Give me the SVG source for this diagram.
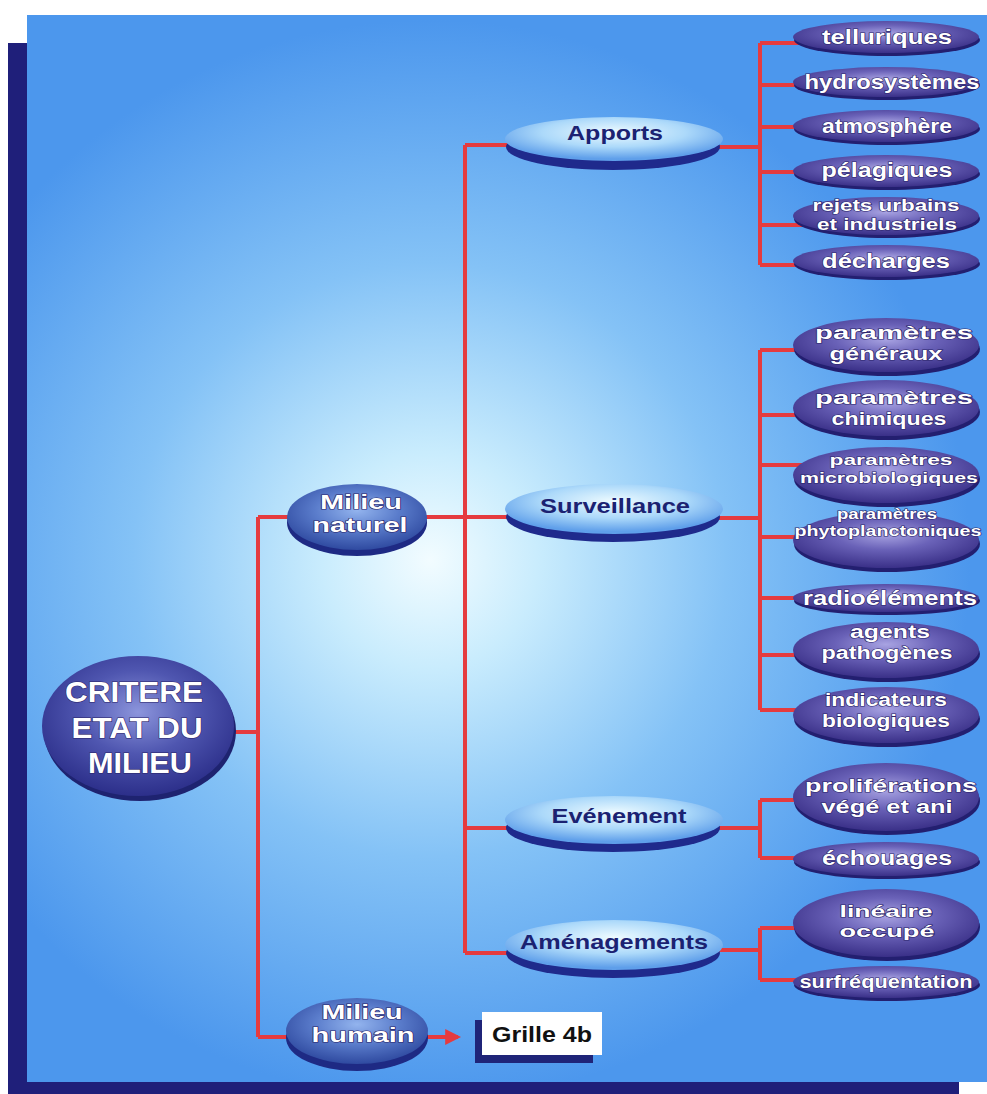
<svg xmlns="http://www.w3.org/2000/svg" width="987" height="1094" viewBox="0 0 987 1094">
<defs>
<radialGradient id="bg" cx="430" cy="560" r="540" gradientUnits="userSpaceOnUse">
<stop offset="0" stop-color="#f2fcff"/>
<stop offset="0.2" stop-color="#c9ecfd"/>
<stop offset="0.55" stop-color="#84c2f6"/>
<stop offset="1" stop-color="#4c97ed"/>
</radialGradient>
<radialGradient id="gp" cx="0.5" cy="0.4" r="0.6">
<stop offset="0" stop-color="#a8a3e2"/>
<stop offset="0.45" stop-color="#6a62b8"/>
<stop offset="1" stop-color="#3a3088"/>
</radialGradient>
<radialGradient id="gr" cx="0.5" cy="0.4" r="0.6">
<stop offset="0" stop-color="#8c95dc"/>
<stop offset="0.5" stop-color="#4f56b0"/>
<stop offset="1" stop-color="#2c2f8a"/>
</radialGradient>
<radialGradient id="gm" cx="0.5" cy="0.4" r="0.6">
<stop offset="0" stop-color="#93b4ee"/>
<stop offset="0.5" stop-color="#5a7ccb"/>
<stop offset="1" stop-color="#2f4aa0"/>
</radialGradient>
<radialGradient id="gl" cx="0.5" cy="0.35" r="0.6">
<stop offset="0" stop-color="#eefbff"/>
<stop offset="0.55" stop-color="#acd9fa"/>
<stop offset="1" stop-color="#5f9fea"/>
</radialGradient>
<marker id="ah" markerWidth="4" markerHeight="4" refX="3.2" refY="2" orient="auto" markerUnits="strokeWidth">
<path d="M0,0 L4,2 L0,4 Z" fill="#e53b3f"/>
</marker>
<style>
.c{stroke:#e53b3f;stroke-width:4;fill:none}
.sh{fill:#231f70}
.shl{fill:#1f2a8c}
.p{fill:url(#gp)}
.l{fill:url(#gl)}
.w{font-family:"Liberation Sans",Arial,sans-serif;font-weight:bold;fill:#ffffff;text-anchor:middle;stroke:#2a2468;stroke-width:1.2;paint-order:stroke}
.n{font-family:"Liberation Sans",Arial,sans-serif;font-weight:bold;fill:#1b2272;text-anchor:middle}
</style>
</defs>

<!-- background frame -->
<rect x="0" y="0" width="987" height="1094" fill="#ffffff"/>
<rect x="8" y="43" width="19" height="1051" fill="#1f1f7a"/>
<rect x="8" y="1082" width="951" height="12" fill="#1f1f7a"/>
<rect x="27" y="15" width="960" height="1067" fill="url(#bg)"/>

<g id="connectors">
<path class="c" d="M235,732 H258 M258,517 V1037 M258,517 H300 M258,1037 H295"/>
<path class="c" d="M425,517 H515 M465,145 V953 M465,145 H515 M465,828 H515 M465,953 H515"/>
<path class="c" d="M718,147 H760 M760,43 V265 M760,43 H805 M760,85 H805 M760,127 H805 M760,172 H805 M760,225 H805 M760,265 H805"/>
<path class="c" d="M718,518 H760 M760,350 V710 M760,350 H805 M760,415 H805 M760,465 H805 M760,537 H805 M760,598 H805 M760,655 H805 M760,710 H805"/>
<path class="c" d="M718,828 H760 M760,800 V858 M760,800 H805 M760,858 H805"/>
<path class="c" d="M718,950 H760 M760,928 V980 M760,928 H805 M760,980 H805"/>
<path class="c" d="M426,1037 H458" marker-end="url(#ah)"/>
</g>

<g id="root">
<ellipse cx="140" cy="731" rx="96" ry="70" fill="#1e2370"/>
<ellipse cx="138" cy="726" rx="96" ry="70" fill="url(#gr)"/>
<text class="w" x="134" y="702" font-size="30" textLength="138" lengthAdjust="spacingAndGlyphs">CRITERE</text>
<text class="w" x="137" y="738" font-size="30" textLength="131" lengthAdjust="spacingAndGlyphs">ETAT DU</text>
<text class="w" x="140" y="773" font-size="30" textLength="104" lengthAdjust="spacingAndGlyphs">MILIEU</text>
</g>

<g id="milieu-naturel">
<ellipse cx="357" cy="523" rx="70" ry="33" fill="#1e2a84"/>
<ellipse cx="357" cy="517" rx="70" ry="33" fill="url(#gm)"/>
<text class="w" x="361" y="509" font-size="20" textLength="82" lengthAdjust="spacingAndGlyphs">Milieu</text>
<text class="w" x="360" y="532" font-size="20" textLength="95" lengthAdjust="spacingAndGlyphs">naturel</text>
</g>

<g id="milieu-humain">
<ellipse cx="357" cy="1038" rx="71" ry="33" fill="#1e2a84"/>
<ellipse cx="357" cy="1031" rx="71" ry="33" fill="url(#gm)"/>
<text class="w" x="362" y="1019" font-size="20" textLength="81" lengthAdjust="spacingAndGlyphs">Milieu</text>
<text class="w" x="363" y="1042" font-size="20" textLength="103" lengthAdjust="spacingAndGlyphs">humain</text>
</g>

<g id="grille">
<rect x="475" y="1020" width="118" height="43" fill="#1f2478"/>
<rect x="482" y="1012" width="120" height="43" fill="#ffffff"/>
<text x="492" y="1042" font-family="Liberation Sans, Arial, sans-serif" font-weight="bold" font-size="22" fill="#111111" textLength="100" lengthAdjust="spacingAndGlyphs">Grille 4b</text>
</g>

<g id="apports">
<ellipse class="shl" cx="613" cy="147" rx="107" ry="23"/>
<ellipse class="l" cx="614" cy="139" rx="109" ry="22"/>
<text class="n" x="615" y="140" font-size="21" textLength="96" lengthAdjust="spacingAndGlyphs">Apports</text>
</g>
<g id="surveillance">
<ellipse class="shl" cx="613" cy="517" rx="107" ry="25"/>
<ellipse class="l" cx="614" cy="509" rx="109" ry="25"/>
<text class="n" x="615" y="513" font-size="21" textLength="150" lengthAdjust="spacingAndGlyphs">Surveillance</text>
</g>
<g id="evenement">
<ellipse class="shl" cx="613" cy="828" rx="107" ry="24"/>
<ellipse class="l" cx="614" cy="820" rx="109" ry="24"/>
<text class="n" x="619" y="823" font-size="21" textLength="135" lengthAdjust="spacingAndGlyphs">Evénement</text>
</g>
<g id="amenagements">
<ellipse class="shl" cx="613" cy="953" rx="107" ry="25"/>
<ellipse class="l" cx="614" cy="945" rx="109" ry="25"/>
<text class="n" x="614" y="949" font-size="21" textLength="188" lengthAdjust="spacingAndGlyphs">Aménagements</text>
</g>

<g id="telluriques">
<ellipse class="sh" cx="887" cy="40" rx="93" ry="16"/>
<ellipse class="p" cx="886" cy="37" rx="93" ry="16"/>
<text class="w" x="887" y="44" font-size="20" textLength="130" lengthAdjust="spacingAndGlyphs">telluriques</text>
</g>
<g id="hydrosystemes">
<ellipse class="sh" cx="887" cy="85" rx="93" ry="15"/>
<ellipse class="p" cx="886" cy="82" rx="93" ry="15"/>
<text class="w" x="892" y="89" font-size="20" textLength="175" lengthAdjust="spacingAndGlyphs">hydrosystèmes</text>
</g>
<g id="atmosphere">
<ellipse class="sh" cx="887" cy="129" rx="93" ry="16"/>
<ellipse class="p" cx="886" cy="126" rx="93" ry="16"/>
<text class="w" x="887" y="133" font-size="20" textLength="130" lengthAdjust="spacingAndGlyphs">atmosphère</text>
</g>
<g id="pelagiques">
<ellipse class="sh" cx="887" cy="174" rx="93" ry="16"/>
<ellipse class="p" cx="886" cy="171" rx="93" ry="16"/>
<text class="w" x="887" y="177" font-size="20" textLength="131" lengthAdjust="spacingAndGlyphs">pélagiques</text>
</g>
<g id="rejets">
<ellipse class="sh" cx="887" cy="219" rx="93" ry="19"/>
<ellipse class="p" cx="886" cy="216" rx="93" ry="19"/>
<text class="w" x="886" y="211" font-size="16" textLength="147" lengthAdjust="spacingAndGlyphs">rejets urbains</text>
<text class="w" x="887" y="230" font-size="16" textLength="140" lengthAdjust="spacingAndGlyphs">et industriels</text>
</g>
<g id="decharges">
<ellipse class="sh" cx="887" cy="264" rx="93" ry="16"/>
<ellipse class="p" cx="886" cy="261" rx="93" ry="16"/>
<text class="w" x="886" y="268" font-size="20" textLength="128" lengthAdjust="spacingAndGlyphs">décharges</text>
</g>

<g id="param-generaux">
<ellipse class="sh" cx="887" cy="349" rx="93" ry="27"/>
<ellipse class="p" cx="886" cy="345" rx="93" ry="27"/>
<text class="w" x="894" y="339" font-size="18" textLength="158" lengthAdjust="spacingAndGlyphs">paramètres</text>
<text class="w" x="886" y="360" font-size="18" textLength="113" lengthAdjust="spacingAndGlyphs">généraux</text>
</g>
<g id="param-chimiques">
<ellipse class="sh" cx="887" cy="412" rx="93" ry="28"/>
<ellipse class="p" cx="886" cy="408" rx="93" ry="28"/>
<text class="w" x="894" y="404" font-size="18" textLength="158" lengthAdjust="spacingAndGlyphs">paramètres</text>
<text class="w" x="889" y="425" font-size="18" textLength="115" lengthAdjust="spacingAndGlyphs">chimiques</text>
</g>
<g id="param-micro">
<ellipse class="sh" cx="887" cy="479" rx="93" ry="28"/>
<ellipse class="p" cx="886" cy="475" rx="93" ry="28"/>
<text class="w" x="891" y="465" font-size="15.5" textLength="123" lengthAdjust="spacingAndGlyphs">paramètres</text>
<text class="w" x="889" y="483" font-size="15.5" textLength="178" lengthAdjust="spacingAndGlyphs">microbiologiques</text>
</g>
<g id="param-phyto">
<ellipse class="sh" cx="887" cy="544" rx="93" ry="28"/>
<ellipse class="p" cx="886" cy="540" rx="93" ry="28"/>
<text class="w" x="887" y="519" font-size="14" textLength="100" lengthAdjust="spacingAndGlyphs">paramètres</text>
<text class="w" x="888" y="536" font-size="14" textLength="187" lengthAdjust="spacingAndGlyphs">phytoplanctoniques</text>
</g>
<g id="radioelements">
<ellipse class="sh" cx="887" cy="601" rx="93" ry="14"/>
<ellipse class="p" cx="886" cy="598" rx="93" ry="14"/>
<text class="w" x="890" y="605" font-size="20" textLength="174" lengthAdjust="spacingAndGlyphs">radioéléments</text>
</g>
<g id="agents">
<ellipse class="sh" cx="887" cy="654" rx="93" ry="28"/>
<ellipse class="p" cx="886" cy="650" rx="93" ry="28"/>
<text class="w" x="890" y="638" font-size="18" textLength="80" lengthAdjust="spacingAndGlyphs">agents</text>
<text class="w" x="887" y="659" font-size="18" textLength="131" lengthAdjust="spacingAndGlyphs">pathogènes</text>
</g>
<g id="indicateurs">
<ellipse class="sh" cx="887" cy="719" rx="93" ry="28"/>
<ellipse class="p" cx="886" cy="715" rx="93" ry="28"/>
<text class="w" x="886" y="706" font-size="18" textLength="122" lengthAdjust="spacingAndGlyphs">indicateurs</text>
<text class="w" x="886" y="727" font-size="18" textLength="128" lengthAdjust="spacingAndGlyphs">biologiques</text>
</g>

<g id="proliferations">
<ellipse class="sh" cx="887" cy="801" rx="93" ry="34"/>
<ellipse class="p" cx="886" cy="797" rx="93" ry="34"/>
<text class="w" x="891" y="792" font-size="18" textLength="172" lengthAdjust="spacingAndGlyphs">proliférations</text>
<text class="w" x="887" y="813" font-size="18" textLength="131" lengthAdjust="spacingAndGlyphs">végé et ani</text>
</g>
<g id="echouages">
<ellipse class="sh" cx="887" cy="862" rx="93" ry="17"/>
<ellipse class="p" cx="886" cy="859" rx="93" ry="17"/>
<text class="w" x="887" y="865" font-size="20" textLength="130" lengthAdjust="spacingAndGlyphs">échouages</text>
</g>
<g id="lineaire">
<ellipse class="sh" cx="887" cy="927" rx="93" ry="34"/>
<ellipse class="p" cx="886" cy="923" rx="93" ry="34"/>
<text class="w" x="886" y="917" font-size="17" textLength="93" lengthAdjust="spacingAndGlyphs">linéaire</text>
<text class="w" x="887" y="937" font-size="17" textLength="95" lengthAdjust="spacingAndGlyphs">occupé</text>
</g>
<g id="surfrequentation">
<ellipse class="sh" cx="887" cy="985" rx="93" ry="16"/>
<ellipse class="p" cx="886" cy="982" rx="93" ry="16"/>
<text class="w" x="886" y="988" font-size="19" textLength="173" lengthAdjust="spacingAndGlyphs">surfréquentation</text>
</g>
</svg>
